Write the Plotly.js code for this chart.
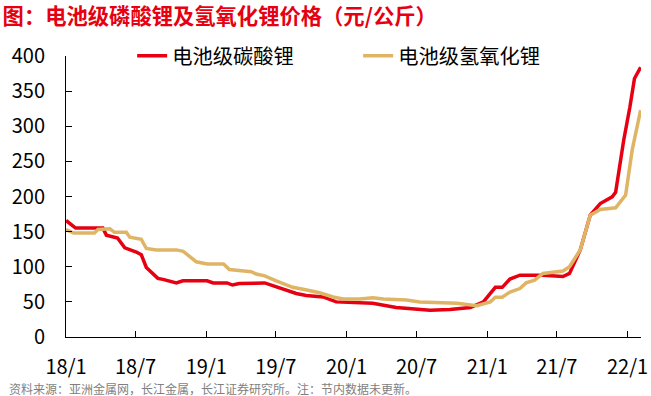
<!DOCTYPE html>
<html>
<head>
<meta charset="utf-8">
<script src="https://cdn.plot.ly/plotly-3.0.1.min.js"></script>
<style>
  html, body { margin: 0; padding: 0; background: #fff; }
  #chart { width: 651px; height: 396px; }
</style>
</head>
<body>
<div id="chart"></div>
<script>
// 电池级碳酸锂 (元/公斤)
const carbDates = ['2018-01-01','2018-01-26','2018-04-07','2018-04-16','2018-05-15','2018-06-03','2018-07-03','2018-07-16','2018-07-29','2018-08-15','2018-08-28','2018-09-10','2018-09-28','2018-10-15','2018-11-01','2019-01-03','2019-01-19','2019-02-24','2019-03-10','2019-03-28','2019-06-02','2019-07-02','2019-08-23','2019-09-18','2019-11-01','2019-12-05','2020-02-05','2020-03-09','2020-05-09','2020-08-05','2020-09-26','2020-11-18','2020-12-22','2021-01-22','2021-02-09','2021-03-01','2021-03-27','2021-05-26','2021-07-17','2021-08-03','2021-08-31','2021-09-26','2021-10-22','2021-11-22','2021-12-01','2021-12-22','2022-01-07','2022-01-19','2022-02-04'];
const carbValues = [166,155,155,145,141,127,121,117,99,90,83.5,82,80,77,80,80,77,77,74,76,77,71.5,62,59,57,50,48,48,42,38,39,42,50,70.7,70.7,82.5,88,88,86,90.5,124,173.5,190,199.5,206,280,327,368,384];

// 电池级氢氧化锂 (元/公斤)
const hydDates = ['2018-01-01','2018-01-21','2018-03-16','2018-03-25','2018-04-25','2018-05-07','2018-06-07','2018-06-16','2018-07-16','2018-07-29','2018-08-24','2018-10-15','2018-11-02','2018-11-19','2018-12-06','2019-01-03','2019-02-15','2019-03-02','2019-04-02','2019-04-28','2019-05-11','2019-06-02','2019-07-02','2019-08-14','2019-09-10','2019-10-23','2019-11-27','2019-12-23','2020-02-05','2020-03-09','2020-04-06','2020-06-05','2020-07-09','2020-10-14','2020-12-05','2021-01-09','2021-01-22','2021-02-09','2021-03-01','2021-03-27','2021-04-12','2021-05-04','2021-05-26','2021-07-17','2021-08-03','2021-08-31','2021-09-26','2021-10-22','2021-12-01','2021-12-27','2022-01-13','2022-02-04'];
const hydValues = [153,148,148,153,154,149,149,142,139,126,124,124,122,115,107,104,104,96,95,93,89.6,87,80,70.7,68,63,57,54,54,56,54,52.6,50,48,44.5,50,56.5,56.5,64,69,77,81,90.5,94,100,124,173.5,181.6,184,202,266,323];

const seriesNames = ['电池级碳酸锂','电池级氢氧化锂'];
const tickDates = ['2018-01-01','2018-07-01','2019-01-01','2019-07-01','2020-01-01','2020-07-01','2021-01-01','2021-07-01','2022-01-01'];
const tickLabels = ['18/1','18/7','19/1','19/7','20/1','20/7','21/1','21/7','22/1'];
const yTicks = [0,50,100,150,200,250,300,350,400];

const FONT = '"Noto Sans CJK SC", "Noto Sans", sans-serif';

const data = [
  {
    x: carbDates, y: carbValues, name: seriesNames[0], type: 'scatter', mode: 'lines',
    line: {color: '#E60012', width: 3.5, shape: 'linear'}
  },
  {
    x: hydDates, y: hydValues, name: seriesNames[1], type: 'scatter', mode: 'lines',
    line: {color: '#DFB565', width: 3.5, shape: 'linear'}
  }
];

const layout = {
  width: 651, height: 396,
  margin: {l: 66, r: 10, t: 56, b: 59},
  paper_bgcolor: '#ffffff', plot_bgcolor: '#ffffff',
  font: {family: FONT, color: '#000000', size: 20},
  title: {
    text: '<b>图：电池级磷酸锂及氢氧化锂价格（元/公斤）</b>',
    font: {family: FONT, size: 21.3, color: '#E60012'},
    x: 0.004, xanchor: 'left', xref: 'container',
    y: 0.958, yanchor: 'middle', yref: 'container'
  },
  showlegend: true,
  legend: {
    orientation: 'h', traceorder: 'normal',
    x: 0.115, xanchor: 'left', y: 1.0, yanchor: 'middle',
    font: {family: FONT, size: 20.3, color: '#000000'},
    bgcolor: 'rgba(0,0,0,0)', borderwidth: 0,
    entrywidth: 181, entrywidthmode: 'pixels'
  },
  xaxis: {
    type: 'date',
    range: ['2018-01-01', '2022-02-05'],
    tickmode: 'array', tickvals: tickDates, ticktext: tickLabels,
    ticks: 'inside', ticklen: 6, tickwidth: 1, tickcolor: '#000',
    showline: true, linecolor: '#000', linewidth: 1,
    showgrid: false, zeroline: false,
    tickfont: {family: FONT, size: 20, color: '#000'},
    ticklabelstandoff: 12
  },
  yaxis: {
    range: [0, 400],
    tickmode: 'array', tickvals: yTicks,
    ticks: 'inside', ticklen: 6, tickwidth: 1, tickcolor: '#000',
    showline: true, linecolor: '#000', linewidth: 1,
    showgrid: false, zeroline: false,
    tickfont: {family: FONT, size: 20, color: '#000'},
    ticklabelstandoff: 16
  },
  annotations: [
    {
      text: '资料来源：亚洲金属网，长江金属，长江证券研究所。注：节内数据未更新。',
      xref: 'paper', yref: 'paper', x: -0.103, y: -0.182,
      xanchor: 'left', yanchor: 'middle', showarrow: false,
      font: {family: FONT, size: 12, color: '#7F7F7F'}
    }
  ]
};

Plotly.newPlot('chart', data, layout, {displayModeBar: false, staticPlot: true});
</script>
</body>
</html>
